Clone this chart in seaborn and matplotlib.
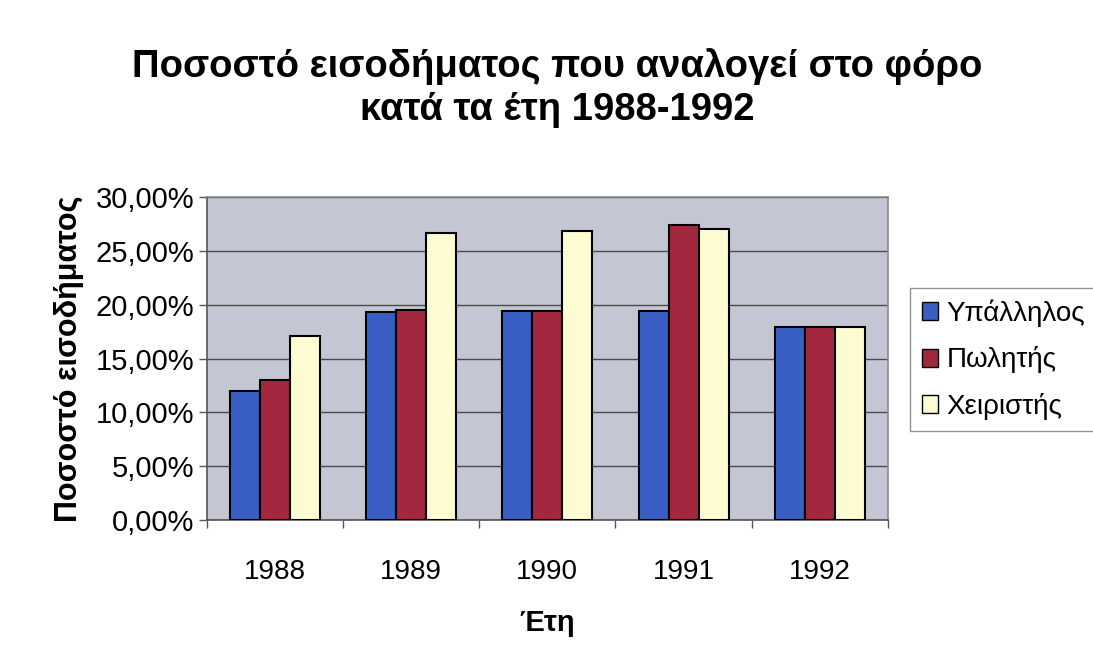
import matplotlib
matplotlib.use("Agg")
import matplotlib.pyplot as plt
import seaborn as sns
import pandas as pd
from matplotlib.ticker import FuncFormatter, FixedLocator

years = ["1988", "1989", "1990", "1991", "1992"]
series = ["Υπάλληλος", "Πωλητής", "Χειριστής"]
ypallilos = [12.0, 19.3, 19.4, 19.4, 17.9]
politis = [13.0, 19.5, 19.4, 27.4, 17.9]
xeiristis = [17.1, 26.7, 26.8, 27.0, 17.9]
colors = ["#3a5fc4", "#a3283f", "#fdfbd2"]

df = pd.DataFrame({
    "Έτη": years * 3,
    "value": ypallilos + politis + xeiristis,
    "series": [series[0]] * 5 + [series[1]] * 5 + [series[2]] * 5,
})

sns.set_style("white")
plt.rcParams["font.family"] = ["Liberation Sans", "DejaVu Sans"]
plt.rcParams["text.color"] = "black"
plt.rcParams["xtick.color"] = "black"
plt.rcParams["ytick.color"] = "black"
plt.rcParams["axes.labelcolor"] = "black"

fig = plt.figure(figsize=(10.93, 6.6), dpi=100)
ax = fig.add_axes([0.189, 0.212, 0.6235, 0.4895])
ax.set_facecolor("#c4c7d3")

sns.barplot(data=df, x="Έτη", y="value", hue="series", palette=colors,
            width=0.66, edgecolor="black", linewidth=1.5, ax=ax, saturation=1,
            zorder=3)

ax.set_ylim(0, 30)
ax.set_xlim(-0.5, 4.5)
ax.yaxis.set_major_locator(FixedLocator([0, 5, 10, 15, 20, 25, 30]))
ax.yaxis.set_major_formatter(FuncFormatter(lambda v, p: f"{v:.2f}".replace(".", ",") + "%"))
ax.grid(axis="y", color="#4a4a4a", linewidth=1, zorder=1)
ax.set_axisbelow(True)

ax.set_xticks([-0.5, 0.5, 1.5, 2.5, 3.5, 4.5], minor=True)
ax.tick_params(axis="x", which="major", length=0, labelsize=20, pad=28)
ax.tick_params(axis="x", which="minor", length=6, width=1, color="#555555", direction="out", bottom=True)
ax.tick_params(axis="y", which="major", length=6, width=1, color="#555555", direction="out", left=True, labelsize=21, pad=3)

for s in ["top", "right"]:
    ax.spines[s].set_color("#8a8a8a")
    ax.spines[s].set_linewidth(1.2)
for s in ["left", "bottom"]:
    ax.spines[s].set_color("#555555")
    ax.spines[s].set_linewidth(1.2)

ax.set_xlabel("Έτη", fontsize=21, fontweight="bold", labelpad=17)
ax.set_ylabel("Ποσοστό εισοδήματος", fontsize=22, fontweight="bold", labelpad=8)

fig.suptitle("Ποσοστό εισοδήματος που αναλογεί στο φόρο\nκατά τα έτη 1988-1992",
             x=0.51, y=0.927, fontsize=27.5, fontweight="bold", linespacing=1.25)

leg = ax.legend(loc="upper left", bbox_to_anchor=(0.833, 0.563), bbox_transform=fig.transFigure,
                frameon=True, fontsize=20, handlelength=0.6, handleheight=0.6,
                handletextpad=0.3, borderpad=0.4, labelspacing=0.7, fancybox=False,
                edgecolor="#777777", title=None, borderaxespad=0)
for h in leg.legend_handles:
    h.set_linewidth(1)

fig.savefig("out.png", dpi=100, facecolor="white")
